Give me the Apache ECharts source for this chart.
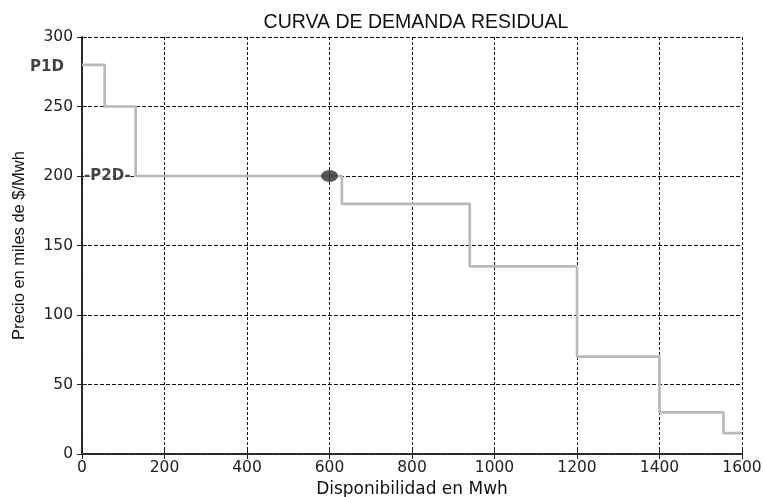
<!DOCTYPE html>
<html><head><meta charset="utf-8">
<script src="https://cdn.jsdelivr.net/npm/echarts@6/dist/echarts.min.js"></script>
<style>html,body{margin:0;padding:0;background:#fff}#c{width:765px;height:497px}</style>
</head><body><div id="c"></div>
<script>
const stepX = [0, 55, 130, 630, 940, 1200, 1400, 1555, 1600];
const stepY = [280, 250, 200, 180, 135, 70, 30, 15, 15];
const pointX = [600];
const pointY = [200];
const labelPoints = [[0, 280, 'P1D'], [0, 200, '-P2D-']];
const xTicks = [0, 200, 400, 600, 800, 1000, 1200, 1400, 1600];
const yTicks = [0, 50, 100, 150, 200, 250, 300];

const SANS = 'Liberation Sans';
const WIDE = 'DejaVu Sans';
const AX = '#222';
const chart = echarts.init(document.getElementById('c'));
const hidden = {show: false};
chart.setOption({
  animation: false,
  backgroundColor: '#fff',
  title: {text: 'CURVA DE DEMANDA RESIDUAL', left: 411, top: 8, textAlign: 'center',
    textStyle: {fontFamily: SANS, fontSize: 19.5, fontWeight: 'normal', color: '#111'}},
  grid: {left: 82, right: 23, top: 37, bottom: 43, show: false, containLabel: false, outerBoundsMode: 'none'},
  xAxis: [{type: 'value', min: xTicks[0], max: xTicks[xTicks.length - 1], interval: 200,
    name: 'Disponibilidad en Mwh', nameLocation: 'middle', nameGap: 25,
    nameTextStyle: {fontFamily: WIDE, fontSize: 17, color: '#111'},
    axisLine: {lineStyle: {color: AX, width: 1.5}},
    axisTick: {inside: true, length: 5, lineStyle: {color: AX}},
    axisLabel: {fontFamily: WIDE, fontSize: 15.5, color: '#222', margin: 6, formatter: v => String(v)},
    splitLine: {show: true, lineStyle: {color: '#111', type: [3, 2], width: 1}}},
    {type: 'value', position: 'top', min: xTicks[0], max: xTicks[xTicks.length - 1], interval: 200,
    axisLine: {show: true, lineStyle: {color: AX, width: 1.5}},
    axisTick: {show: true, inside: true, length: 5, lineStyle: {color: AX}},
    axisLabel: hidden, splitLine: hidden}],
  yAxis: [{type: 'value', min: yTicks[0], max: yTicks[yTicks.length - 1], interval: 50,
    name: 'Precio en miles de $/Mwh', nameLocation: 'middle', nameGap: 54,
    nameTextStyle: {fontFamily: SANS, fontSize: 16.5, color: '#111'},
    axisLine: {lineStyle: {color: AX, width: 1.5}},
    axisTick: {inside: true, length: 5, lineStyle: {color: AX}},
    axisLabel: {fontFamily: WIDE, fontSize: 15.5, color: '#222', margin: 9},
    splitLine: {show: true, lineStyle: {color: '#111', type: [4, 2], width: 1}}},
    {type: 'value', position: 'right', min: yTicks[0], max: yTicks[yTicks.length - 1], interval: 50,
    axisLine: {show: true, lineStyle: {color: AX, width: 1.5}},
    axisTick: {show: true, inside: true, length: 5, lineStyle: {color: AX}},
    axisLabel: hidden, splitLine: hidden}],
  series: [
    {type: 'line', step: 'end', symbol: 'none',
      data: stepX.map((x, i) => [x, stepY[i]]),
      lineStyle: {color: '#b9b9b9', width: 2.7}, z: 3},
    {type: 'scatter', data: pointX.map((x, i) => [x, pointY[i]]),
      symbol: 'circle', symbolSize: [17, 12], itemStyle: {color: '#2e2e2e'}, z: 5},
    {type: 'scatter', symbolSize: 0, z: 6,
      data: labelPoints.map(p => ({value: [p[0], p[1]],
        label: p[2] === 'P1D'
          ? {show: true, position: 'left', distance: 18, offset: [0, 2], formatter: p[2]}
          : {show: true, position: 'right', distance: 2, formatter: p[2], backgroundColor: '#fff', padding: [0, 0]}})),
      label: {fontFamily: WIDE, fontSize: 15, fontWeight: 'bold', color: '#111'}}
  ]
});
</script></body></html>
